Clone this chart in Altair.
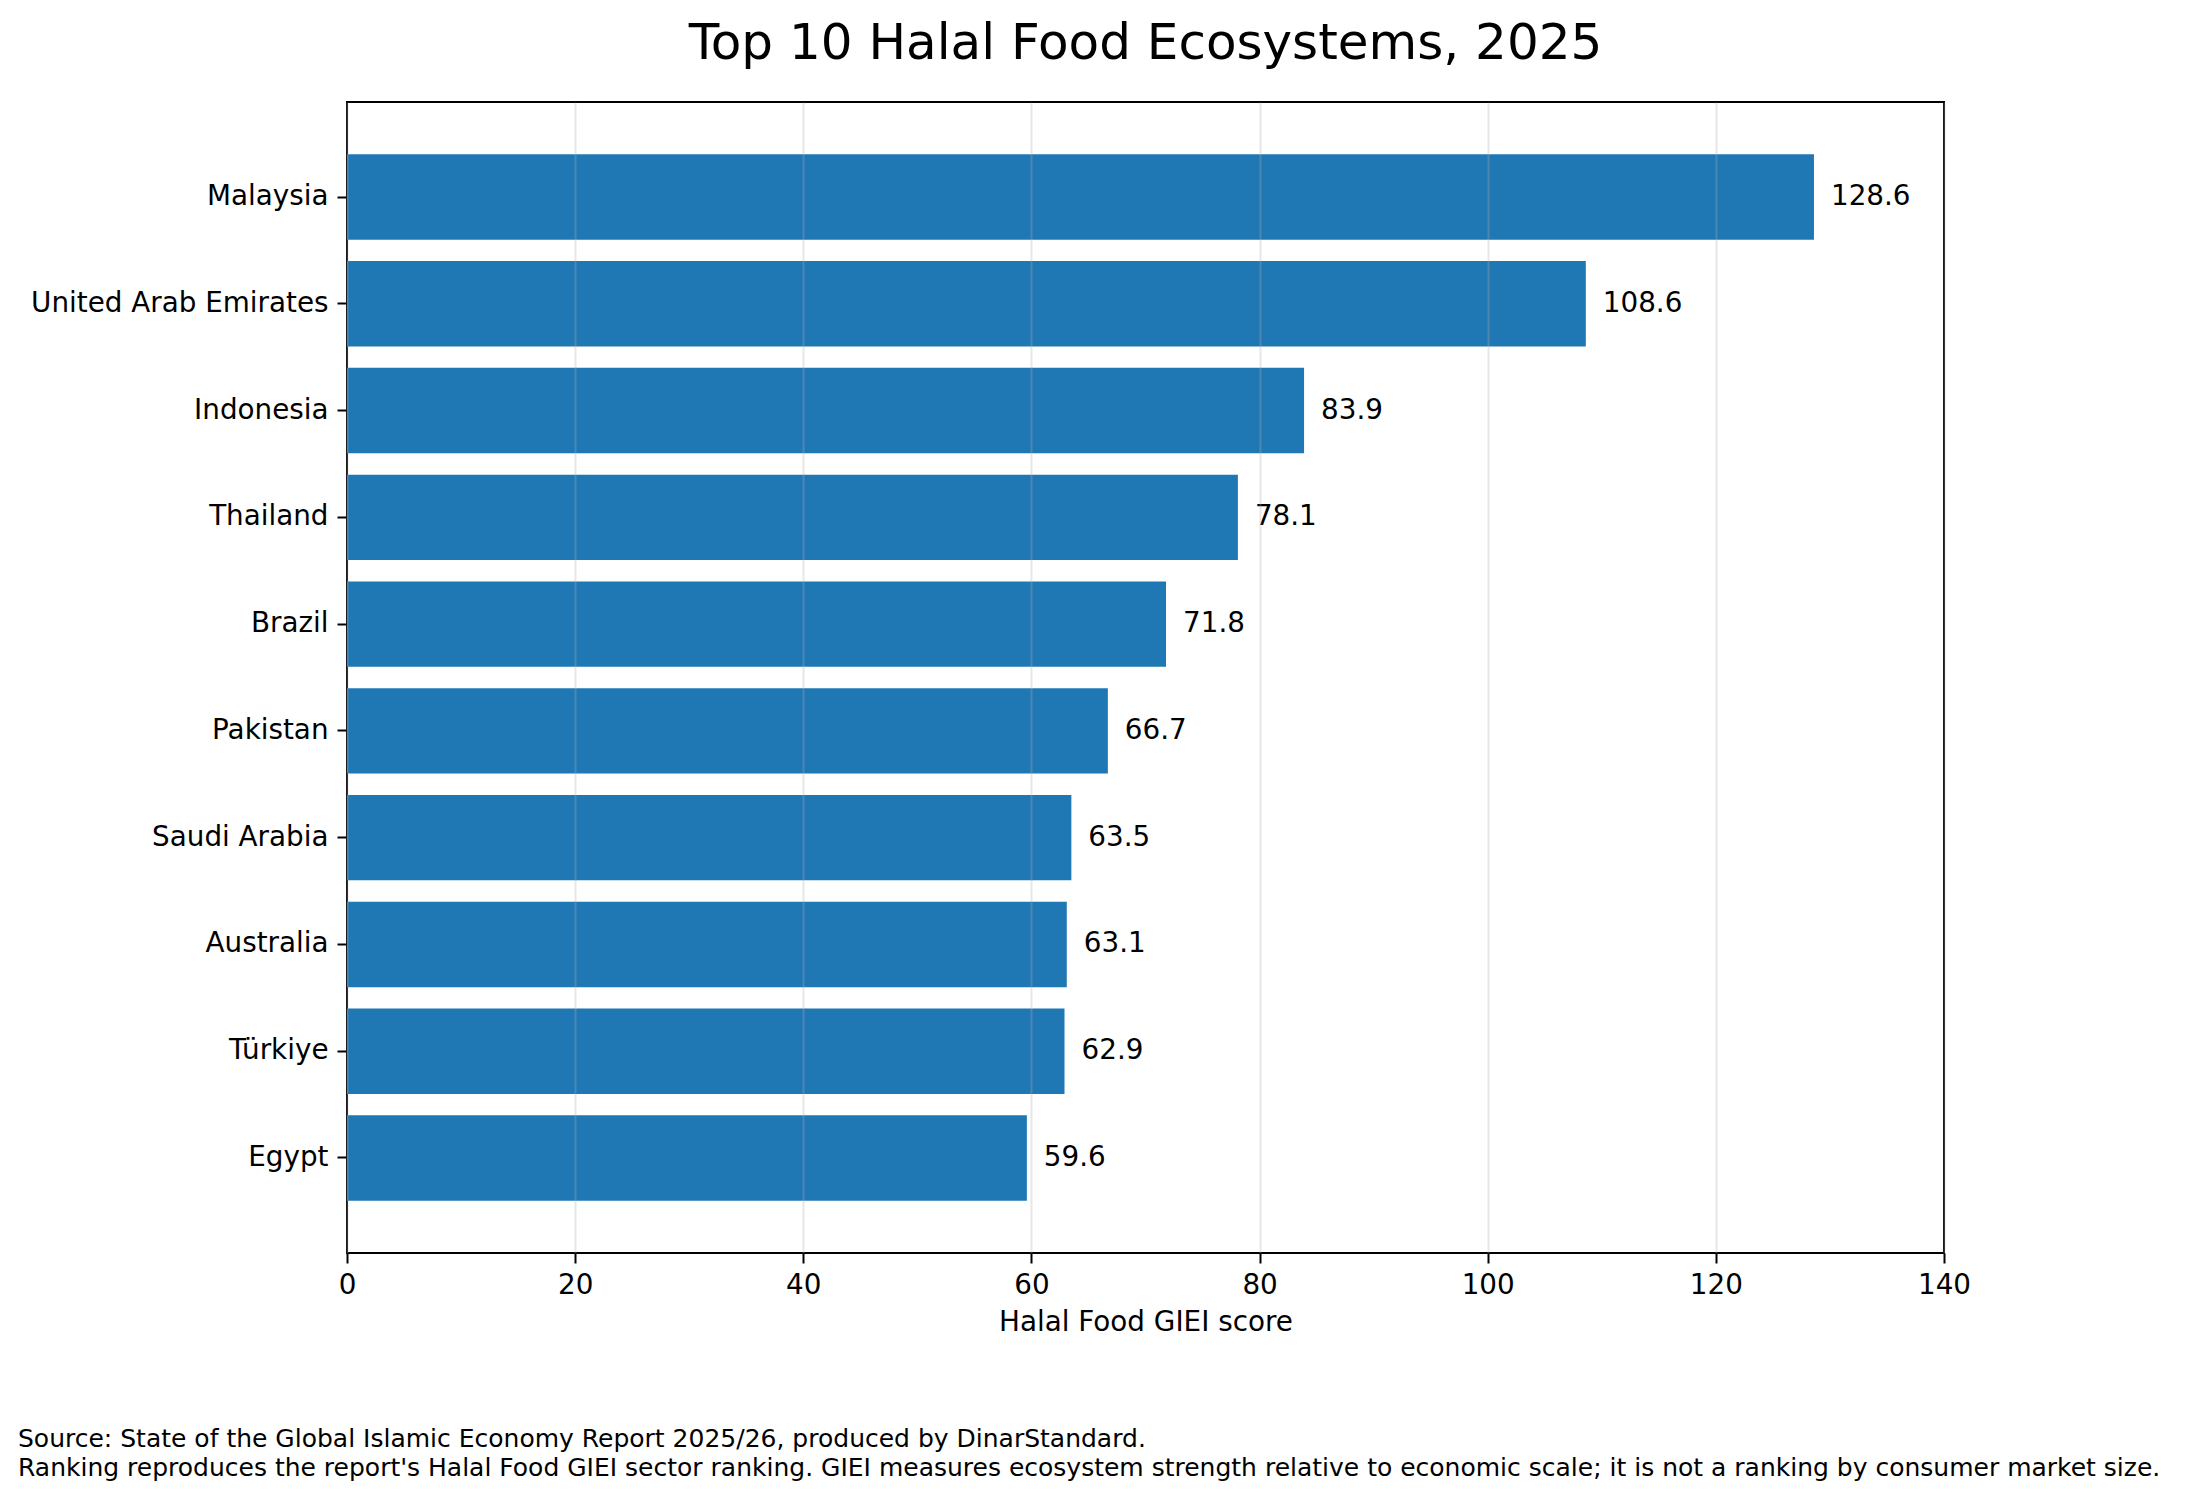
"""
Top 10 Halal Food ecosystems (GIEI 2025), horizontal bar chart
"""

import pandas as pd

import altair as alt

FONT = "DejaVu Sans"

title = "Top 10 Halal Food Ecosystems, 2025"

countries = [
    "Malaysia",
    "United Arab Emirates",
    "Indonesia",
    "Thailand",
    "Brazil",
    "Pakistan",
    "Saudi Arabia",
    "Australia",
    "Türkiye",
    "Egypt",
]
scores = [128.6, 108.6, 83.9, 78.1, 71.8, 66.7, 63.5, 63.1, 62.9, 59.6]

x_ticks = [0, 20, 40, 60, 80, 100, 120, 140]

notes = [
    "Source: State of the Global Islamic Economy Report 2025/26, produced by DinarStandard.",
    "Ranking reproduces the report's Halal Food GIEI sector ranking. GIEI measures "
    "ecosystem strength relative to economic scale; it is not a ranking by consumer market size.",
]

df = pd.DataFrame({"country": countries, "score": scores})

base = alt.Chart(df).encode(
    y=alt.Y(
        "country:N",
        sort=countries,
        title=None,
        scale=alt.Scale(paddingInner=0.2, paddingOuter=0.49),
        axis=alt.Axis(
            labelFont=FONT,
            labelFontSize=27.8,
            labelColor="black",
            labelPadding=9,
            labelLimit=800,
            ticks=True,
            tickSize=10,
            tickWidth=2,
            tickColor="black",
            domain=False,
            grid=False,
        ),
    ),
    x=alt.X(
        "score:Q",
        title="Halal Food GIEI score",
        scale=alt.Scale(domain=[0, 140], nice=False),
        axis=alt.Axis(
            values=x_ticks,
            format="d",
            labelFont=FONT,
            labelFontSize=27.8,
            labelColor="black",
            labelPadding=8,
            labelFlush=False,
            tickSize=10,
            tickWidth=2,
            tickColor="black",
            domain=False,
            grid=True,
            gridColor="#b0b0b0",
            gridOpacity=0.3,
            gridWidth=2,
            titleFont=FONT,
            titleFontSize=27.8,
            titleFontWeight="normal",
            titleColor="black",
            titlePadding=10,
            zindex=1,
        ),
    ),
)

bars = base.mark_bar(color="#1f77b4")

labels = base.mark_text(
    align="left",
    baseline="middle",
    dx=17,
    font=FONT,
    fontSize=27.8,
    color="black",
).encode(text=alt.Text("score:Q", format=".1f"))

# title as a text mark, centred over the plot area
heading = (
    alt.Chart(pd.DataFrame({"t": [title]}))
    .mark_text(
        align="center",
        baseline="alphabetic",
        font=FONT,
        fontSize=50,
        color="black",
    )
    .encode(
        x=alt.value(798.5),
        y=alt.value(-43),
        text="t:N",
    )
)

# footnote below the axes, two lines
footnote = (
    alt.Chart(pd.DataFrame({"note": [0]}))
    .mark_text(
        align="left",
        baseline="alphabetic",
        font=FONT,
        fontSize=25,
        lineHeight=29,
        color="black",
    )
    .encode(
        x=alt.value(-329),
        y=alt.value(1345),
        text=alt.value(notes),
    )
)

chart = (
    (bars + labels + heading + footnote)
    .properties(
        width=1597,
        height=1151,
        padding={"left": 339, "top": 94, "right": 230, "bottom": 235},
        autosize=alt.AutoSizeParams(type="none"),
    )
    .configure(background="white")
    .configure_view(stroke="black", strokeWidth=2)
)

chart.save("out.html", embed_options={"renderer": "svg", "actions": False})
